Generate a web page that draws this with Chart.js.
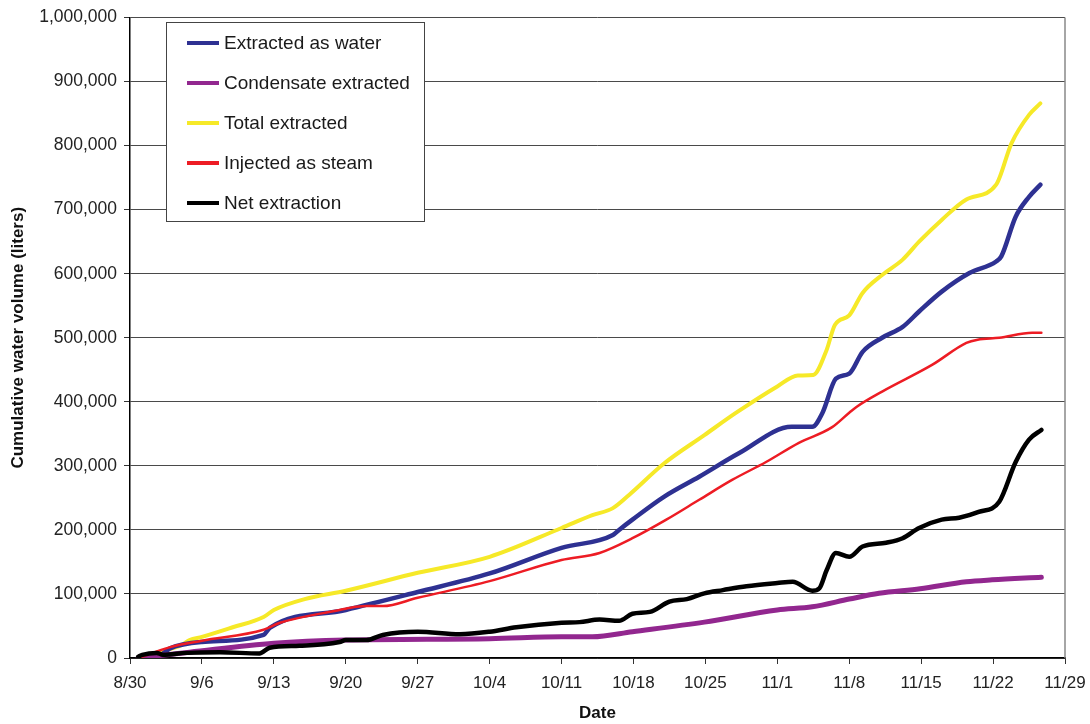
<!DOCTYPE html>
<html>
<head>
<meta charset="utf-8">
<script src="https://cdn.jsdelivr.net/npm/chart.js@4.4.1/dist/chart.umd.min.js"></script>
<style>
  html, body { margin: 0; padding: 0; background: #fff; }
  #wrap { width: 1090px; height: 724px; }
</style>
</head>
<body>
<div id="wrap"><canvas id="waterChart" width="1090" height="724"></canvas></div>
<script>
// x = days since 8/30, y = thousands of liters
const tickLabels = ['8/30', '9/6', '9/13', '9/20', '9/27', '10/4', '10/11', '10/18', '10/25', '11/1', '11/8', '11/15', '11/22', '11/29'];

const waterDays = [0.8, 3, 3.9, 7, 13, 13.6, 21, 28, 35, 42, 47, 47.6, 48.9, 52, 55.4, 59.3, 64.4, 66.4, 67.4, 68.7, 70, 71.3, 73.2, 75.2, 76.8, 79, 81.7, 84.3, 84.8, 86.2, 87.5, 88.6];
const waterValues = [0, 5, 15, 25, 36, 47, 75, 103, 132, 172, 192, 200, 216, 252, 283, 320, 361, 361, 383, 436, 444, 478, 500, 517, 541, 572, 601, 619, 627, 689, 720, 739];

const condDays = [0.8, 5.8, 14, 21, 35, 42, 45, 48.9, 55.9, 63, 66.4, 70, 72.9, 76.9, 81.4, 83.9, 88.7];
const condValues = [0, 9, 23, 28, 30, 33, 33, 41, 56, 75, 80, 92, 101, 108, 119, 122, 126];

const totalDays = [0.8, 3, 5, 5.8, 7, 10, 13, 14, 17, 21, 28, 35, 42, 45, 47, 48.6, 52, 55.9, 59, 63, 65, 66.5, 67.8, 68.6, 70, 71.3, 73.2, 75.2, 76.8, 79, 81.4, 84.3, 85.8, 87.5, 88.6];
const totalValues = [0, 10, 20, 28, 33, 48, 64, 75, 92, 105, 133, 158, 203, 223, 234, 255, 304, 348, 383, 424, 441, 442, 481, 520, 535, 570, 598, 622, 650, 684, 716, 739, 804, 848, 866];

const steamDays = [0.8, 3.9, 7, 13, 14.6, 20.4, 21, 23, 24.6, 28, 35, 42, 45.7, 48.9, 52.2, 55.4, 58.6, 61.9, 65.1, 68.3, 70, 70.7, 73.2, 78.1, 81.4, 82.5, 84.6, 87.8, 88.7];
const steamValues = [0, 17, 27, 44, 55, 75, 77, 81, 81, 94, 120, 153, 164, 187, 216, 247, 278, 306, 336, 360, 383, 392, 416, 458, 492, 497, 500, 508, 508];

const netDays = [0.8, 1.2, 2.6, 3.2, 5.5, 8.75, 12.6, 13.6, 16.5, 20.4, 21, 23, 24.6, 28, 32.1, 35, 37.6, 42, 43.75, 45.7, 47.6, 48.9, 50.6, 52.5, 54.2, 55.9, 57.7, 60, 63, 64.5, 66.4, 67.1, 67.8, 68.7, 70, 71.3, 73.6, 75.2, 76.8, 79, 80.7, 82.6, 84.6, 86.2, 87.5, 88.7];
const netValues = [2, 5, 8, 5, 8, 9, 7, 16, 19, 25, 28, 28, 36, 41, 37, 41, 48, 55, 56, 60, 58, 69, 72, 88, 92, 101, 106, 112, 117, 119, 105, 109, 137, 164, 158, 174, 180, 187, 203, 216, 219, 228, 244, 306, 341, 356];

function toPoints(days, values) {
    return days.map((d, i) => ({x: d, y: values[i] * 1000}));
}

const fontFamily = "'Liberation Sans', Arial, sans-serif";

const legendBox = {
    id: 'legendBox',
    afterDraw(chart) {
        const ctx = chart.ctx;
        const x = 166.5, y = 22.5, w = 258, h = 199;
        ctx.save();
        ctx.fillStyle = '#fff';
        ctx.fillRect(x, y, w, h);
        ctx.strokeStyle = '#444';
        ctx.lineWidth = 1;
        ctx.strokeRect(x, y, w, h);
        ctx.font = '19px ' + fontFamily;
        ctx.textBaseline = 'middle';
        ctx.textAlign = 'left';
        chart.data.datasets.forEach((ds, i) => {
            const cy = 43 + i * 40;
            ctx.beginPath();
            ctx.moveTo(187, cy);
            ctx.lineTo(219, cy);
            ctx.strokeStyle = ds.borderColor;
            ctx.lineWidth = 4;
            ctx.stroke();
            ctx.fillStyle = '#1a1a1a';
            ctx.fillText(ds.label, 224, cy + 1);
        });
        ctx.restore();
    }
};

const rightFrame = {
    id: 'rightFrame',
    beforeDatasetsDraw(chart) {
        const {ctx, chartArea} = chart;
        ctx.save();
        ctx.strokeStyle = '#888';
        ctx.lineWidth = 1.5;
        ctx.beginPath();
        ctx.moveTo(chartArea.right, chartArea.top);
        ctx.lineTo(chartArea.right, chartArea.bottom);
        ctx.stroke();
        ctx.restore();
    }
};

const lineStyle = {pointRadius: 0, fill: false, cubicInterpolationMode: 'monotone', borderCapStyle: 'round', borderJoinStyle: 'round'};

new Chart(document.getElementById('waterChart'), {
    type: 'line',
    data: {
        datasets: [
            {label: 'Extracted as water', data: toPoints(waterDays, waterValues), borderColor: '#2e3192', borderWidth: 4.5, order: 3, ...lineStyle},
            {label: 'Condensate extracted', data: toPoints(condDays, condValues), borderColor: '#92278f', borderWidth: 5, order: 2, ...lineStyle},
            {label: 'Total extracted', data: toPoints(totalDays, totalValues), borderColor: '#f6e928', borderWidth: 4, order: 4, ...lineStyle},
            {label: 'Injected as steam', data: toPoints(steamDays, steamValues), borderColor: '#ed1c24', borderWidth: 2.5, order: 1, ...lineStyle},
            {label: 'Net extraction', data: toPoints(netDays, netValues), borderColor: '#000000', borderWidth: 4.5, order: 0, ...lineStyle}
        ]
    },
    options: {
        responsive: false,
        animation: false,
        layout: {padding: {left: 0, right: 25, top: 17, bottom: 0}},
        plugins: {
            legend: {display: false},
            tooltip: {enabled: false}
        },
        scales: {
            x: {
                type: 'linear',
                min: 0,
                max: 91,
                afterFit: (scale) => {
                    scale.height = 66;
                    scale.paddingLeft = 0;
                    scale.paddingRight = 0;
                },
                ticks: {
                    stepSize: 7,
                    autoSkip: false,
                    maxRotation: 0,
                    padding: 9,
                    color: '#222',
                    font: {family: fontFamily, size: 17},
                    callback: (value) => tickLabels[Math.round(value / 7)]
                },
                grid: {drawOnChartArea: false, drawTicks: true, tickLength: 6, tickColor: '#333'},
                border: {color: '#000', width: 1.5},
                title: {
                    display: true,
                    text: 'Date',
                    color: '#111',
                    font: {family: fontFamily, size: 17, weight: 'bold'},
                    padding: {top: 0, bottom: 0}
                }
            },
            y: {
                min: 0,
                max: 1000000,
                afterFit: (scale) => { scale.width = 130; },
                ticks: {
                    stepSize: 100000,
                    padding: 7,
                    color: '#222',
                    font: {family: fontFamily, size: 17.5},
                    callback: (value) => value.toLocaleString('en-US')
                },
                grid: {color: '#4a4a4a', lineWidth: 1, tickLength: 6, tickColor: '#333'},
                border: {color: '#000', width: 1.5},
                title: {
                    display: true,
                    text: 'Cumulative water volume (liters)',
                    color: '#111',
                    font: {family: fontFamily, size: 17, weight: 'bold'},
                    padding: {top: 8, bottom: 0}
                }
            }
        }
    },
    plugins: [rightFrame, legendBox]
});
</script>
</body>
</html>
